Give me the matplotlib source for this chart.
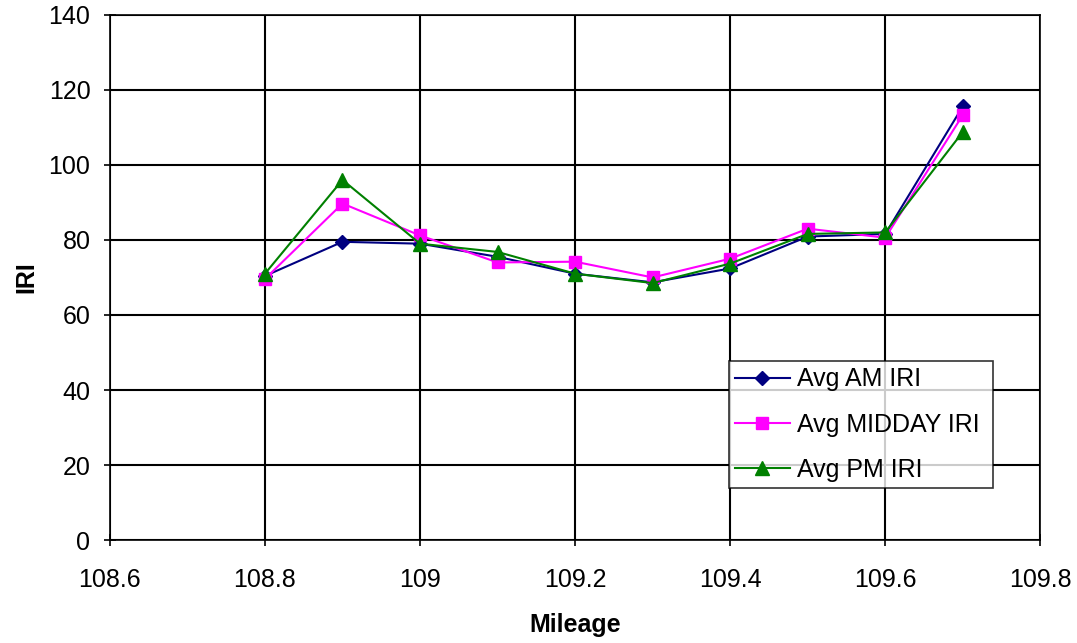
import matplotlib.pyplot as plt

plt.rcParams['font.family'] = ['Liberation Sans', 'DejaVu Sans']

mileage = [108.8, 108.9, 109.0, 109.1, 109.2, 109.3, 109.4, 109.5, 109.6, 109.7]
am_iri = [70.4, 79.5, 79.0, 75.5, 71.0, 68.7, 72.4, 80.9, 81.6, 115.6]
midday_iri = [69.6, 89.7, 81.2, 74.0, 74.2, 70.0, 75.0, 83.0, 80.6, 113.3]
pm_iri = [71.0, 96.0, 79.0, 76.8, 71.0, 68.5, 73.7, 81.6, 82.0, 108.8]

fig = plt.figure(figsize=(10.77, 6.43), dpi=100)
ax = fig.add_axes([0.102, 0.160, 0.864, 0.817])

ax.plot(mileage, am_iri, color='#000080', marker='D', markersize=7.5, lw=1.5, label='Avg AM IRI')
ax.plot(mileage, midday_iri, color='#ff00ff', marker='s', markersize=8.5, lw=1.5, label='Avg MIDDAY IRI')
ax.plot(mileage, pm_iri, color='#008000', marker='^', markersize=10, lw=1.5, label='Avg PM IRI')

ax.set_xlim(108.6, 109.8)
ax.set_ylim(0, 140)
ax.set_xticks([108.6, 108.8, 109.0, 109.2, 109.4, 109.6, 109.8])
ax.set_xticklabels(['108.6', '108.8', '109', '109.2', '109.4', '109.6', '109.8'])
ax.set_yticks(range(0, 141, 20))
ax.grid(True, color='black', lw=1.5)
ax.set_axisbelow(True)
ax.tick_params(labelsize=18, direction='inout', length=8, width=1.2)
ax.tick_params(axis='y', pad=10)
ax.tick_params(axis='x', pad=16)
for s in ax.spines.values():
    s.set_linewidth(1.2)

ax.set_xlabel('Mileage', fontsize=18, fontweight='bold', labelpad=15)
ax.set_ylabel('IRI', fontsize=18, fontweight='bold')
ax.yaxis.set_label_coords(-0.077, 0.5)

leg = ax.legend(loc='lower left', bbox_to_anchor=(0.665, 0.099, 0.284, 0.242), mode='expand',
                fontsize=18, frameon=True, fancybox=False, edgecolor='black',
                handlelength=2.2, handletextpad=0.3, borderaxespad=0, borderpad=0.25,
                labelspacing=0.85)
leg.get_frame().set_linewidth(1.2)

fig.savefig('out.png', dpi=100)
